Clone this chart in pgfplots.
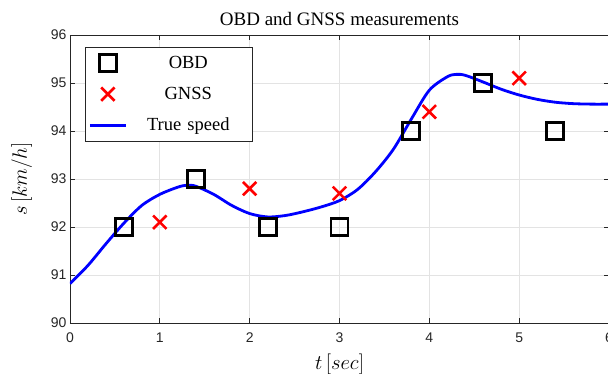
\documentclass[border=0pt]{standalone}
\usepackage{fontspec}
\setmainfont{Liberation Serif}
\newfontfamily\ticksf{Liberation Sans}
\usepackage{pgfplots}
\pgfplotsset{compat=1.18}
\definecolor{axgray}{HTML}{262626}
\definecolor{gridgray}{HTML}{E3E3E3}
\begin{document}
\begin{tikzpicture}
\begin{axis}[
  scale only axis, width=539pt, height=288pt,
  at={(0,0)}, anchor=south west,
  xmin=0, xmax=6, ymin=90, ymax=96,
  xtick={0,1,2,3,4,5,6}, ytick={90,91,92,93,94,95,96},
  grid=major, major grid style={color=gridgray, line width=0.7pt},
  axis line style={color=axgray, line width=0.8pt},
  tick style={color=axgray, line width=0.8pt},
  tick align=inside, major tick length=5pt,
  ticklabel style={font=\ticksf\fontsize{14}{16}\selectfont, text=axgray},
  xticklabel style={yshift=-6pt},
  /pgf/number format/assume math mode=true,
  title={OBD and GNSS measurements},
  title style={font=\fontsize{19}{21}\selectfont, text=black},
  xlabel={$t\,[sec]$}, ylabel={$s\,[km/h]$},
  xlabel style={font=\fontsize{20}{22}\selectfont, yshift=-5pt},
  ylabel style={font=\fontsize{20}{22}\selectfont, yshift=12pt},
  legend cell align=center,
  legend style={at={(0.028,0.958)}, anchor=north west, draw=axgray, line width=0.8pt,
    font=\fontsize{18.5}{20}\selectfont, row sep=13pt, inner ysep=7pt,
    nodes={text width=118pt, align=center}},
  legend image code/.code={\draw[mark repeat=2,mark phase=2,#1] plot coordinates {(0pt,0pt) (18pt,0pt) (36pt,0pt)};},
]
\addplot[only marks, mark=square, mark size=8.5pt, mark options={line width=2.8pt, draw=black}, black]
  coordinates {(0.6,92) (1.4,93) (2.2,92) (3.0,92) (3.8,94) (4.6,95) (5.4,94)};
\addlegendentry{OBD}
\addplot[only marks, mark=x, mark size=9.5pt, mark options={line width=2.6pt, draw=red}, red]
  coordinates {(1,92.1) (2,92.8) (3,92.7) (4,94.4) (5,95.1)};
\addlegendentry{GNSS}
\addplot[blue, line width=2.8pt, smooth, no marks] coordinates {
 (0,90.82) (0.2,91.2) (0.4,91.65) (0.6,92.08) (0.8,92.45) (1.0,92.68) (1.2,92.83)
 (1.3,92.87) (1.4,92.85) (1.6,92.68) (1.8,92.45) (2.0,92.28) (2.2,92.21) (2.4,92.24)
 (2.6,92.32) (2.8,92.42) (3.0,92.55) (3.2,92.78) (3.4,93.15) (3.6,93.62) (3.8,94.25)
 (4.0,94.85) (4.2,95.13) (4.3,95.18) (4.4,95.16) (4.6,95.02) (4.8,94.87) (5.0,94.75)
 (5.2,94.66) (5.4,94.6) (5.6,94.57) (5.8,94.56) (6.0,94.56)};
\addlegendentry{True speed}
\end{axis}
\pgfresetboundingbox
\path (-70pt,-50pt) rectangle (538pt,323pt);
\end{tikzpicture}
\end{document}
